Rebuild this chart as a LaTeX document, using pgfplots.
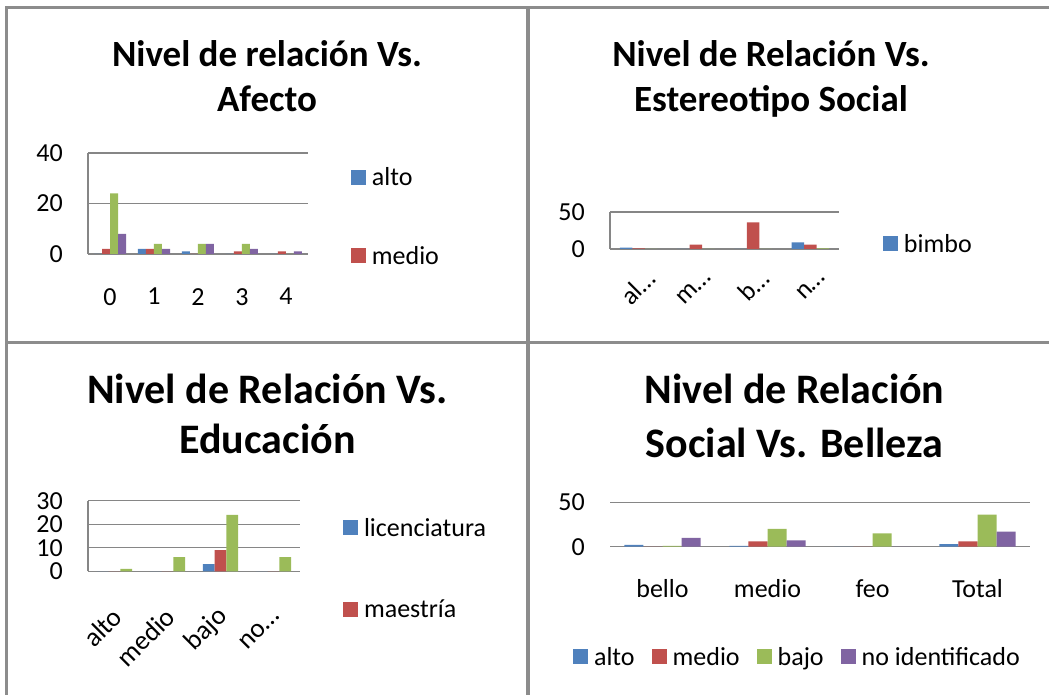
\documentclass[border=0pt]{standalone}
\usepackage{pgfplots}
\pgfplotsset{compat=1.18}
\usepackage{fontspec}
\setmainfont{Carlito}
\definecolor{xblue}{HTML}{4F81BD}
\definecolor{xred}{HTML}{C0504D}
\definecolor{xgreen}{HTML}{9BBB59}
\definecolor{xpurple}{HTML}{8064A2}
\definecolor{gridgray}{HTML}{868686}
\definecolor{bordergray}{HTML}{8C8C8C}
\newcommand{\fs}[1]{\fontsize{#1}{#1}\selectfont}
\pgfplotsset{
  excel/.style={
    scale only axis, ybar=0pt, ymin=0, enlargelimits=false, clip=false,
    axis lines*=left,
    axis line style={-, draw=gridgray, line width=1.3pt},
    major tick length=0pt,
    ymajorgrids, grid style={draw=gridgray, line width=1.3pt},
    tick label style={font=\fs{26}},
    /pgf/number format/assume math mode=true,
    yticklabel style={inner sep=0pt, xshift=-25pt},
    every axis plot/.append style={draw=none},
    legend cell align=left,
    legend style={draw=none, fill=none, inner sep=0pt, outer sep=0pt, font=\fs{26},
      nodes={inner sep=0pt},
      /tikz/every odd column/.append style={column sep=6pt}},
    legend image code/.code={\fill[##1] (0pt,-7.5pt) rectangle (15pt,7.5pt);},
  },
}
\begin{document}
\begin{tikzpicture}[x=1pt,y=1pt]
\path[use as bounding box] (0,0) rectangle (1049,695);
% table borders
\draw[bordergray, line width=3pt] (6.8,0) -- (6.8,687.2) -- (1049,687.2);
\draw[bordergray, line width=3.5pt] (528,0) -- (528,687.2);
\draw[bordergray, line width=3.5pt] (6.8,352.7) -- (1049,352.7);

% titles
\node[font=\bfseries\fs{37}, anchor=base] at (267,628) {Nivel de relación Vs.};
\node[font=\bfseries\fs{37}, anchor=base] at (267,583) {Afecto};
\node[font=\bfseries\fs{37}, anchor=base] at (771,628) {Nivel de Relación Vs.};
\node[font=\bfseries\fs{37}, anchor=base] at (771,583) {Estereotipo Social};
\node[font=\bfseries\fs{42}, anchor=base] at (267.5,291) {Nivel de Relación Vs.};
\node[font=\bfseries\fs{42}, anchor=base] at (267.5,241) {Educación};
\node[font=\bfseries\fs{42}, anchor=base] at (794.5,291) {Nivel de Relación};
\node[font=\bfseries\fs{42}, anchor=base] at (794.5,237) {Social Vs. Belleza};

% Chart 1: Nivel de relación Vs. Afecto
\begin{axis}[excel, at={(88pt,441pt)}, anchor=south west, width=220pt, height=101pt,
  xmin=-0.5, xmax=4.5, ymax=40, ytick={0,20,40}, xtick={0,1,2,3,4}, bar width=8pt,
  xticklabel style={inner sep=0pt, anchor=north, yshift=-34pt},
  legend style={at={(1.195,0.856)}, anchor=north west, row sep=59pt}]
\addplot[fill=xblue] coordinates {(0,0) (1,2) (2,1) (3,0) (4,0)};
\addplot[fill=xred] coordinates {(0,2) (1,2) (2,0) (3,1) (4,1)};
\addplot[fill=xgreen] coordinates {(0,24) (1,4) (2,4) (3,4) (4,0)};
\addplot[fill=xpurple] coordinates {(0,8) (1,2) (2,4) (3,2) (4,1)};
\legend{alto,medio}
\end{axis}

% Chart 2: Nivel de Relación Vs. Estereotipo Social
\begin{axis}[excel, at={(610pt,446pt)}, anchor=south west, width=229pt, height=37pt,
  xmin=-0.5, xmax=3.5, ymax=50, ytick={0,50}, xtick={0,1,2,3}, bar width=12.5pt,
  xticklabels={al…,m…,b…,n…},
  xticklabel style={inner sep=0pt, xshift=12pt, yshift=-25pt, rotate=45, anchor=east},
  legend style={at={(1.192,0.135)}, anchor=west}]
\addplot[fill=xblue] coordinates {(0,2) (1,0) (2,0) (3,9)};
\addplot[fill=xred] coordinates {(0,1) (1,6) (2,36) (3,6)};
\addplot[fill=xgreen] coordinates {(0,0) (1,0) (2,0) (3,1)};
\legend{bimbo}
\end{axis}

% Chart 3: Nivel de Relación Vs. Educación
\begin{axis}[excel, at={(88pt,123.7pt)}, anchor=south west, width=212pt, height=70.6pt,
  xmin=-0.5, xmax=3.5, ymax=30, ytick={0,10,20,30}, xtick={0,1,2,3}, bar width=11.8pt,
  xticklabels={alto,medio,bajo,no…},
  xticklabel style={inner sep=0pt, xshift=3pt, yshift=-41pt, rotate=45, anchor=east, font=\fs{27}},
  legend style={at={(1.203,0.755)}, anchor=north west, row sep=62pt}]
\addplot[fill=xblue] coordinates {(0,0) (1,0) (2,3) (3,0)};
\addplot[fill=xred] coordinates {(0,0) (1,0) (2,9) (3,0)};
\addplot[fill=xgreen] coordinates {(0,1) (1,6) (2,24) (3,6)};
\legend{licenciatura,maestría}
\end{axis}

% Chart 4: Nivel de Relación Social Vs. Belleza
\begin{axis}[excel, at={(610pt,148.3pt)}, anchor=south west, width=420pt, height=44.4pt,
  xmin=-0.5, xmax=3.5, ymax=50, ytick={0,50}, xtick={0,1,2,3}, bar width=19.1pt,
  xticklabels={bello,medio,feo,Total},
  y axis line style={draw=none},
  xticklabel style={inner sep=0pt, anchor=north, yshift=-33pt},
  legend columns=4,
  legend style={at={(-0.088,-2.484)}, anchor=west,
    /tikz/every even column/.append style={column sep=17pt}}]
\addplot[fill=xblue] coordinates {(0,2) (1,1) (2,0) (3,3)};
\addplot[fill=xred] coordinates {(0,0) (1,6) (2,0) (3,6)};
\addplot[fill=xgreen] coordinates {(0,1) (1,20) (2,15) (3,36)};
\addplot[fill=xpurple] coordinates {(0,10) (1,7) (2,0) (3,17)};
\legend{alto,medio,bajo,no identificado}
\end{axis}
\end{tikzpicture}
\end{document}
